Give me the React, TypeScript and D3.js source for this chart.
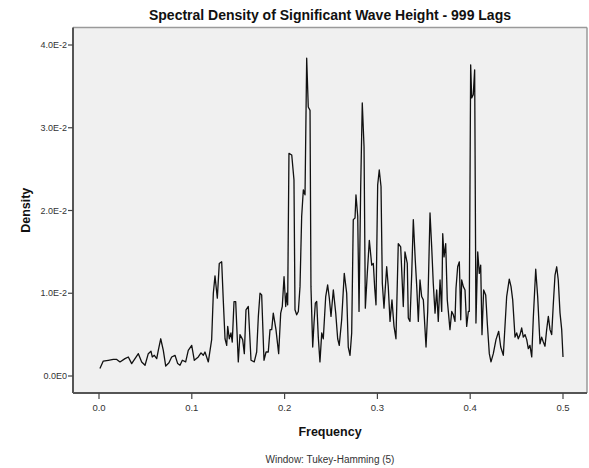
import React from "react";
import * as d3 from "d3";

const frequency: number[] = [
  0.001, 0.0046, 0.010, 0.0154, 0.0191, 0.0226, 0.0280, 0.0316, 0.0352, 0.0406,
  0.0424, 0.0460, 0.0496, 0.0531, 0.0560, 0.0574, 0.0596, 0.0622, 0.0639, 0.0665,
  0.0693, 0.0719, 0.0754, 0.0783, 0.0819, 0.0848, 0.0873, 0.0898, 0.0934, 0.0962,
  0.0999, 0.1027, 0.1070, 0.1099, 0.1124, 0.1142, 0.1178, 0.1214, 0.1232, 0.1250,
  0.1275, 0.1296, 0.1322, 0.1339, 0.1358, 0.1376, 0.1387, 0.1404, 0.1422, 0.1436,
  0.1455, 0.1473, 0.1501, 0.1519, 0.1548, 0.1566, 0.1584, 0.1609, 0.1638, 0.1673,
  0.1699, 0.1717, 0.1735, 0.1753, 0.1778, 0.1800, 0.1824, 0.1843, 0.1861, 0.1878,
  0.1907, 0.1936, 0.1958, 0.1975, 0.1994, 0.2012, 0.2023, 0.2033, 0.2047, 0.2077,
  0.2101, 0.2112, 0.2130, 0.2148, 0.2166, 0.2184, 0.2202, 0.2220, 0.2238, 0.2255,
  0.2274, 0.2284, 0.2303, 0.2317, 0.2331, 0.2346, 0.2363, 0.2381, 0.2400, 0.2417,
  0.2443, 0.2464, 0.2482, 0.2500, 0.2525, 0.2551, 0.2572, 0.2589, 0.2615, 0.2643,
  0.2669, 0.2686, 0.2705, 0.2723, 0.2740, 0.2759, 0.2769, 0.2788, 0.2802, 0.2820,
  0.2837, 0.2856, 0.2870, 0.2891, 0.2913, 0.2939, 0.2956, 0.2971, 0.2985, 0.3003,
  0.3020, 0.3039, 0.3053, 0.3071, 0.3100, 0.3117, 0.3136, 0.3157, 0.3179, 0.3200,
  0.3225, 0.3251, 0.3279, 0.3297, 0.3322, 0.3333, 0.3351, 0.3370, 0.3387, 0.3408,
  0.3424, 0.3441, 0.3459, 0.3477, 0.3495, 0.3524, 0.3542, 0.3567, 0.3585, 0.3602,
  0.3621, 0.3639, 0.3656, 0.3675, 0.3693, 0.3704, 0.3718, 0.3736, 0.3753, 0.3782,
  0.3801, 0.3818, 0.3836, 0.3847, 0.3865, 0.3883, 0.3898, 0.3908, 0.3926, 0.3944,
  0.3962, 0.3980, 0.3990, 0.4005, 0.4016, 0.4033, 0.4048, 0.4062, 0.4081, 0.4098,
  0.4113, 0.4127, 0.4145, 0.4167, 0.4184, 0.4206, 0.4224, 0.4249, 0.4278, 0.4307,
  0.4329, 0.4357, 0.4393, 0.4421, 0.4440, 0.4458, 0.4483, 0.4501, 0.4518, 0.4537,
  0.4555, 0.4572, 0.4591, 0.4609, 0.4626, 0.4644, 0.4663, 0.4680, 0.4706, 0.4727,
  0.4752, 0.4770, 0.4788, 0.4806, 0.4824, 0.4842, 0.4860, 0.4878, 0.4896, 0.4914,
  0.4932, 0.4949, 0.4968, 0.4986, 0.5000,
];

// density in units of 1e-2
const densityE2: number[] = [
  0.09, 0.18, 0.19, 0.20, 0.20, 0.17, 0.21, 0.23, 0.15, 0.24,
  0.27, 0.17, 0.13, 0.27, 0.30, 0.23, 0.25, 0.21, 0.31, 0.45,
  0.31, 0.12, 0.16, 0.23, 0.25, 0.15, 0.13, 0.19, 0.17, 0.31,
  0.37, 0.19, 0.23, 0.28, 0.25, 0.29, 0.17, 0.44, 1.00, 1.21,
  0.94, 1.36, 1.38, 0.92, 0.45, 0.37, 0.60, 0.45, 0.52, 0.41,
  0.90, 0.90, 0.17, 0.50, 0.44, 0.27, 0.80, 0.84, 0.19, 0.17,
  0.29, 0.72, 1.00, 0.98, 0.19, 0.29, 0.29, 0.56, 0.56, 0.76,
  0.56, 0.27, 0.76, 0.84, 1.20, 0.84, 1.00, 0.86, 2.69, 2.67,
  2.37, 0.80, 0.74, 0.78, 1.08, 1.93, 2.25, 2.19, 3.84, 3.25,
  3.21, 1.08, 0.35, 0.64, 0.88, 0.90, 0.47, 0.17, 0.52, 0.45,
  0.96, 1.10, 0.94, 0.72, 1.04, 0.76, 0.45, 0.37, 0.68, 1.24,
  1.00, 0.35, 0.25, 0.52, 1.89, 1.91, 2.19, 1.93, 0.78, 2.29,
  3.30, 2.77, 0.82, 1.24, 1.64, 1.34, 1.36, 1.06, 0.86, 2.31,
  2.49, 2.29, 1.12, 0.82, 1.32, 1.08, 0.66, 0.92, 0.60, 0.45,
  1.60, 1.56, 0.84, 1.50, 1.36, 0.70, 0.66, 1.24, 1.89, 1.40,
  1.08, 0.66, 1.16, 0.96, 0.92, 0.35, 0.78, 1.97, 1.56, 1.12,
  0.76, 1.04, 0.66, 1.16, 0.78, 1.72, 1.44, 1.60, 0.92, 0.56,
  0.78, 0.74, 0.66, 1.06, 1.32, 1.38, 0.68, 1.16, 1.08, 1.04,
  0.60, 0.78, 0.78, 3.76, 3.36, 3.40, 3.70, 0.64, 1.50, 1.24,
  1.34, 0.50, 1.04, 0.98, 0.64, 0.27, 0.17, 0.27, 0.44, 0.54,
  0.35, 0.25, 0.96, 1.17, 1.08, 0.92, 0.47, 0.52, 0.45, 0.50,
  0.58, 0.47, 0.50, 0.44, 0.33, 0.37, 0.23, 0.70, 1.29, 0.96,
  0.39, 0.47, 0.41, 0.36, 0.56, 0.72, 0.56, 0.50, 0.88, 1.22,
  1.32, 1.16, 0.76, 0.56, 0.23,
];

const xTicks: number[] = [0, 0.1, 0.2, 0.3, 0.4, 0.5];
const xTickLabels: string[] = ["0.0", "0.1", "0.2", "0.3", "0.4", "0.5"];
const yTicks: number[] = [0, 0.01, 0.02, 0.03, 0.04];
const yTickLabels: string[] = ["0.0E0", "1.0E-2", "2.0E-2", "3.0E-2", "4.0E-2"];

const title = "Spectral Density of Significant Wave Height - 999 Lags";
const xTitle = "Frequency";
const yTitle = "Density";
const footnote = "Window: Tukey-Hamming (5)";

export default function App() {
  const W = 589;
  const H = 468;
  const frame = { left: 73, top: 27.5, right: 587, bottom: 393 };

  const x = d3.scaleLinear().domain([0, 0.5]).range([99, 563]);
  const y = d3.scaleLinear().domain([0, 0.04]).range([376, 45]);

  const points: [number, number][] = frequency.map((f, i) => [f, densityE2[i] / 100]);
  const line = d3
    .line<[number, number]>()
    .x((d) => x(d[0]))
    .y((d) => y(d[1]));

  const font = "'Liberation Sans', Arial, sans-serif";
  const cx = (frame.left + frame.right) / 2;

  return (
    <svg
      width={W}
      height={H}
      style={{ position: "absolute", left: 0, top: 0, background: "#fff" }}
      fontFamily={font}
    >
      <rect x={0} y={0} width={W} height={H} fill="#fff" />
      <rect
        x={frame.left}
        y={frame.top}
        width={frame.right - frame.left}
        height={frame.bottom - frame.top}
        fill="#f0f0f0"
      />
      {/* top & right border */}
      <line x1={frame.left} y1={frame.top} x2={frame.right} y2={frame.top} stroke="#9a9a9a" strokeWidth={1.5} />
      <line x1={frame.right} y1={frame.top} x2={frame.right} y2={frame.bottom} stroke="#9a9a9a" strokeWidth={1.5} />
      {/* axes */}
      <line x1={frame.left} y1={frame.top} x2={frame.left} y2={frame.bottom} stroke="#555" strokeWidth={2} />
      <line x1={frame.left} y1={frame.bottom} x2={frame.right} y2={frame.bottom} stroke="#555" strokeWidth={2} />

      {yTicks.map((t, i) => (
        <g key={"y" + i}>
          <line x1={frame.left - 5} x2={frame.left} y1={y(t)} y2={y(t)} stroke="#444" strokeWidth={1.2} />
          <text x={frame.left - 6} y={y(t)} dy="0.35em" textAnchor="end" fontSize={9} fill="#333">
            {yTickLabels[i]}
          </text>
        </g>
      ))}
      {xTicks.map((t, i) => (
        <g key={"x" + i}>
          <line x1={x(t)} x2={x(t)} y1={frame.bottom} y2={frame.bottom + 6} stroke="#444" strokeWidth={1.2} />
          <text x={x(t)} y={frame.bottom + 18} textAnchor="middle" fontSize={9.5} fill="#333">
            {xTickLabels[i]}
          </text>
        </g>
      ))}

      <path d={line(points) || ""} fill="none" stroke="#111" strokeWidth={1.3} strokeLinejoin="round" />

      <text x={cx} y={20} textAnchor="middle" fontSize={14} fontWeight="bold" fill="#111">
        {title}
      </text>
      <text x={cx} y={436} textAnchor="middle" fontSize={12.5} fontWeight="bold" fill="#111">
        {xTitle}
      </text>
      <text
        transform={`translate(30, ${(frame.top + frame.bottom) / 2}) rotate(-90)`}
        textAnchor="middle"
        fontSize={12.5}
        fontWeight="bold"
        fill="#111"
      >
        {yTitle}
      </text>
      <text x={cx} y={463} textAnchor="middle" fontSize={10} fill="#333">
        {footnote}
      </text>
    </svg>
  );
}
